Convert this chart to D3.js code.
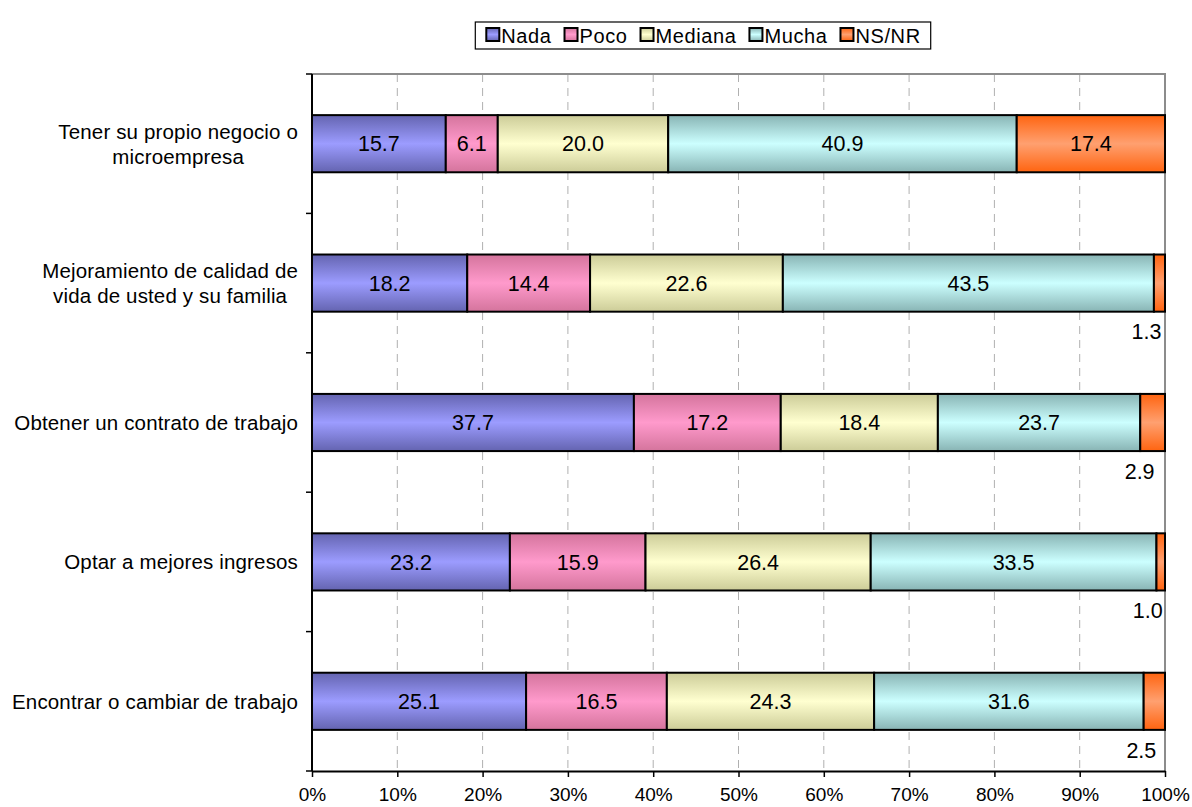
<!DOCTYPE html>
<html><head><meta charset="utf-8">
<script src="https://cdn.jsdelivr.net/npm/d3@7"></script>
<style>body{margin:0;background:#fff}svg{font-family:"Liberation Sans",Arial,sans-serif}</style>
</head><body><svg id="c" width="1192" height="807"></svg>
<script>
const categories = ["Tener su propio negocio o\nmicroempresa","Mejoramiento de calidad de\nvida de usted y su familia","Obtener un contrato de trabajo","Optar a mejores ingresos","Encontrar o cambiar de trabajo"];
const seriesNames = ["Nada","Poco","Mediana","Mucha","NS/NR"];
const nada    = [15.7,18.2,37.7,23.2,25.1];
const poco    = [6.1,14.4,17.2,15.9,16.5];
const mediana = [20.0,22.6,18.4,26.4,24.3];
const mucha   = [40.9,43.5,23.7,33.5,31.6];
const nsnr    = [17.4,1.3,2.9,1.0,2.5];
const xTicks  = [0,0.1,0.2,0.3,0.4,0.5,0.6,0.7,0.8,0.9,1.0];

const seriesVals = [nada,poco,mediana,mucha,nsnr];
const colors = [
  {mid:"#9c9cff",edge:"#6464b0"},
  {mid:"#ff9acc",edge:"#d4749c"},
  {mid:"#ffffd0",edge:"#cccc98"},
  {mid:"#ccffff",edge:"#88b4b4"},
  {mid:"#ffa070",edge:"#ff6410"}
];

const svg = d3.select("#c");
const m = {l:312,r:1165,t:74,b:771};
const x = d3.scaleLinear().domain([0,1]).range([m.l,m.r]);
const y = d3.scaleBand().domain(categories).range([m.t,m.b]).paddingInner(0.59).paddingOuter(0.295);

const defs = svg.append("defs");
colors.forEach((c,i)=>{
  const g = defs.append("linearGradient").attr("id","g"+i).attr("x1",0).attr("x2",0).attr("y1",0).attr("y2",1);
  g.append("stop").attr("offset","0%").attr("stop-color",c.edge);
  g.append("stop").attr("offset","50%").attr("stop-color",c.mid);
  g.append("stop").attr("offset","100%").attr("stop-color",c.edge);
});

// gridlines
svg.append("g").selectAll("line").data(xTicks.slice(1,-1)).join("line")
  .attr("x1",d=>x(d)).attr("x2",d=>x(d)).attr("y1",m.t).attr("y2",m.b)
  .attr("stroke","#b0b0b0").attr("stroke-width",1).attr("stroke-dasharray","8,6");
// top and right border
svg.append("path").attr("d",`M${m.l},${m.t}H${m.r}V${m.b}`).attr("fill","none").attr("stroke","#8c8c8c").attr("stroke-width",2);

// stacked data
const rows = categories.map((c,i)=>{
  const vals = seriesVals.map(s=>s[i]);
  const total = d3.sum(vals);
  let acc = 0;
  return vals.map((v,j)=>{const s={cat:c,j,v,x0:acc/total,x1:(acc+v)/total};acc+=v;return s;});
}).flat();

svg.append("g").selectAll("rect").data(rows).join("rect")
  .attr("x",d=>x(d.x0)).attr("width",d=>x(d.x1)-x(d.x0))
  .attr("y",d=>y(d.cat)).attr("height",y.bandwidth())
  .attr("fill",d=>"url(#g"+d.j+")").attr("stroke","#000").attr("stroke-width",2);

// value labels
const small = d => (x(d.x1)-x(d.x0)) < 40;
svg.append("g").selectAll("text").data(rows).join("text")
  .attr("x",d=> small(d) ? (x(d.x0)+x(d.x1))/2 - 13 : (x(d.x0)+x(d.x1))/2)
  .attr("y",d=> small(d) ? y(d.cat)+y.bandwidth()+20 : y(d.cat)+y.bandwidth()/2)
  .attr("dy","0.36em").attr("text-anchor","middle").attr("font-size",21.5).attr("fill","#000")
  .text(d=>d.v.toFixed(1));

// axes
const xa = svg.append("g").attr("transform",`translate(0,${m.b})`)
  .call(d3.axisBottom(x).tickValues(xTicks).tickFormat(d3.format(".0%")).tickSize(6).tickSizeOuter(0));
xa.select(".domain").attr("stroke","#000").attr("stroke-width",2);
xa.selectAll(".tick line").attr("stroke","#000").attr("stroke-width",1.5);
xa.selectAll("text").attr("font-size",19).attr("fill","#000").attr("y",17).attr("dy","0.71em").attr("font-family","Liberation Sans, Arial, sans-serif");

// left axis line with ticks between categories
svg.append("line").attr("x1",m.l).attr("x2",m.l).attr("y1",m.t).attr("y2",m.b).attr("stroke","#000").attr("stroke-width",2);
const bounds = d3.range(categories.length+1).map(i=>m.t + i*(m.b-m.t)/categories.length);
svg.append("g").selectAll("line").data(bounds).join("line")
  .attr("x1",m.l-6).attr("x2",m.l).attr("y1",d=>d).attr("y2",d=>d).attr("stroke","#000").attr("stroke-width",1.5);

// category labels
const cg = svg.append("g");
categories.forEach(c=>{
  const lines = c.split("\n");
  const cy = y(c)+y.bandwidth()/2;
  const t = cg.append("text").attr("font-size",20.5).attr("fill","#000").attr("text-anchor","middle").attr("letter-spacing","0.15");
  const lh = 25;
  lines.forEach((ln,k)=>{
    t.append("tspan").attr("x",0).attr("y",cy + (k-(lines.length-1)/2)*lh).attr("dy","0.36em").text(ln);
  });
  let maxW = 0;
  t.selectAll("tspan").each(function(){maxW=Math.max(maxW,this.getComputedTextLength());});
  t.selectAll("tspan").attr("x",298-maxW/2);
});

// legend
const lg = svg.append("g");
const lbox = lg.append("rect").attr("fill","#fff").attr("stroke","#000").attr("stroke-width",1.2);
let lx = 0;
seriesNames.forEach((n,i)=>{
  const g = lg.append("g");
  g.append("rect").attr("x",lx+1).attr("y",-7).attr("width",13).attr("height",13).attr("fill","url(#g"+i+")").attr("stroke","#000").attr("stroke-width",2);
  const t = g.append("text").attr("x",lx+16).attr("y",1).attr("dy","0.36em").attr("font-size",20).attr("letter-spacing","0.6").attr("fill","#000").text(n);
  lx += 16 + t.node().getComputedTextLength() + 12;
});
const lw = lx - 12;
const lcx = 703, lcy = 35;
lg.attr("transform",`translate(${lcx - lw/2},${lcy})`);
lbox.attr("x",-10).attr("y",-13).attr("width",lw+20).attr("height",27);
</script></body></html>
